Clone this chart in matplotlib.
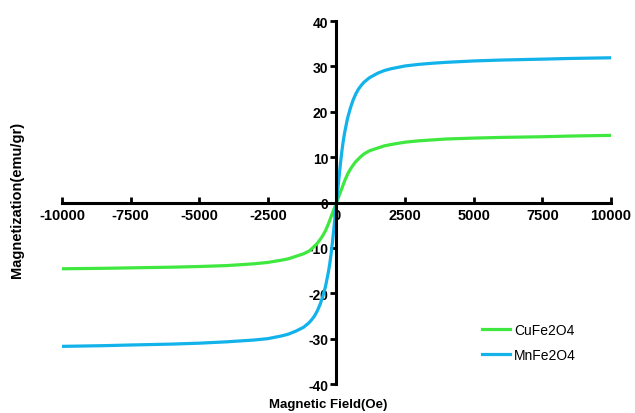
import matplotlib
matplotlib.use("Agg")
from matplotlib import pyplot as plt

plt.rcParams['font.family'] = ['Liberation Sans', 'DejaVu Sans']

# Applied field (Oe)
field = [-10000, -8500, -7500, -6000, -5000, -4000, -3500, -3000, -2500, -2000,
         -1750, -1500, -1200, -1000, -900, -800, -700, -600, -500, -400, -300,
         -250, -200, -150, -100, -50, 0, 50, 100, 150, 200, 250, 300, 400, 500,
         600, 700, 800, 900, 1000, 1200, 1500, 1750, 2000, 2500, 3000, 3500,
         4000, 5000, 6000, 7500, 8500, 10000]

# Magnetization (emu/gr)
cufe2o4 = [-14.6, -14.5, -14.4, -14.25, -14.1, -13.9, -13.7, -13.5, -13.2, -12.7,
           -12.4, -11.9, -11.3, -10.7, -10.2, -9.6, -9.0, -8.2, -7.3, -6.2, -4.8,
           -4.0, -3.2, -2.4, -1.6, -0.8, 0.0, 0.8, 1.6, 2.4, 3.2, 4.0, 4.8, 6.2,
           7.3, 8.2, 9.0, 9.6, 10.2, 10.7, 11.4, 12.0, 12.5, 12.8, 13.3, 13.6,
           13.8, 14.0, 14.2, 14.35, 14.5, 14.65, 14.8]
mnfe2o4 = [-31.7, -31.55, -31.4, -31.2, -31.0, -30.7, -30.5, -30.3, -30.0, -29.4,
           -29.0, -28.4, -27.5, -26.5, -25.8, -25.0, -23.9, -22.5, -20.7, -18.5,
           -15.5, -13.7, -11.5, -8.9, -6.0, -3.0, 0.0, 3.0, 6.0, 8.9, 11.5, 13.7,
           15.5, 18.5, 20.7, 22.5, 23.9, 25.0, 25.8, 26.5, 27.5, 28.5, 29.1, 29.5,
           30.1, 30.45, 30.7, 30.9, 31.2, 31.4, 31.6, 31.75, 31.9]

xticks = [-10000, -7500, -5000, -2500, 0, 2500, 5000, 7500, 10000]
yticks = [-40, -30, -20, -10, 0, 10, 20, 30, 40]

fig = plt.figure(figsize=(6.35, 4.14), dpi=100)
ax = fig.add_axes([0.0976, 0.070, 0.8646, 0.8768])

ax.plot(field, cufe2o4, color='#3fe83f', linewidth=2.3, label='CuFe2O4')
ax.plot(field, mnfe2o4, color='#12b2ea', linewidth=2.3, label='MnFe2O4')

ax.set_xlim(-10000, 10000)
ax.set_ylim(-40, 40)

# spines through the origin (set before styling ticks, it resets them)
ax.spines['left'].set_position(('data', 0))
ax.spines['bottom'].set_position(('data', 0))
ax.spines['top'].set_visible(False)
ax.spines['right'].set_visible(False)
ax.spines['left'].set_linewidth(2.2)
ax.spines['bottom'].set_linewidth(2.2)

ax.set_xticks(xticks)
ax.set_yticks(yticks)
ax.set_xticklabels([str(t) for t in xticks], fontsize=10.5, fontweight='bold')
ax.set_yticklabels([str(t) for t in yticks], fontsize=10, fontweight='bold')
ax.tick_params(axis='y', direction='out', length=4, width=2, pad=2)
ax.tick_params(axis='x', direction='in', length=4, width=2, pad=4)

fig.text(0.026, 0.517, 'Magnetization(emu/gr)', rotation=90, ha='center',
         va='center', fontsize=10.5, fontweight='bold')
fig.text(0.517, 0.022, 'Magnetic Field(Oe)', ha='center', va='center',
         fontsize=9.5, fontweight='bold')

ax.legend(loc='center left', bbox_to_anchor=(0.743, 0.115), frameon=False,
          fontsize=10, handlelength=2.0, handletextpad=0.3, labelspacing=0.8)

fig.savefig('out.png', dpi=100)
